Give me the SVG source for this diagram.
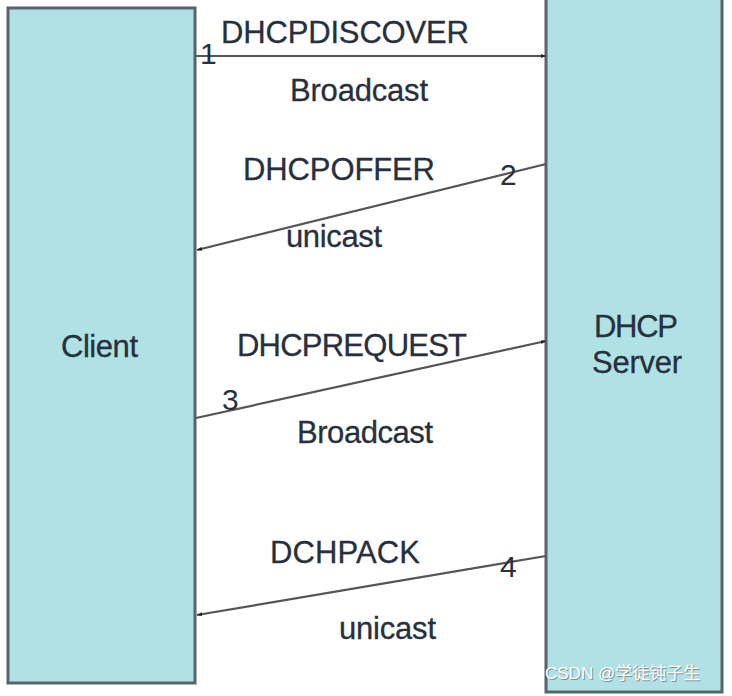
<svg xmlns="http://www.w3.org/2000/svg" width="732" height="696" viewBox="0 0 732 696">
<defs>
<style>
.box{fill:#b0e1e5;stroke:#56656a;stroke-width:3}
.t{font-family:"Liberation Sans",Arial,sans-serif;font-size:31px;fill:#27303c;stroke:#27303c;stroke-width:0.3}
.n{font-family:"Liberation Sans",Arial,sans-serif;font-size:30px;fill:#27303c}
.ln{stroke:#555;stroke-width:2.2;fill:none;marker-end:url(#ah)}
.wm{font-family:"Liberation Sans","Noto Sans CJK SC",sans-serif;font-size:17px}
</style>
<marker id="ah" viewBox="0 0 10 10" refX="10" refY="5" markerWidth="5" markerHeight="5" orient="auto" markerUnits="userSpaceOnUse">
<path d="M0,1 L10,5 L0,9 z" fill="#222"/>
</marker>
</defs>
<rect width="732" height="696" fill="#ffffff"/>
<g id="client">
<rect class="box" x="8" y="8" width="187" height="675"/>
<text class="t" x="61" y="357" textLength="77">Client</text>
</g>
<g id="server">
<rect class="box" x="546" y="-4" width="176" height="696"/>
<text class="t" x="594" y="337" textLength="84">DHCP</text>
<text class="t" x="592" y="373" textLength="90">Server</text>
</g>
<g id="connectors">
<line class="ln" x1="196" y1="56" x2="546" y2="56"/>
<line class="ln" x1="546" y1="164" x2="197" y2="250"/>
<line class="ln" x1="196" y1="418" x2="546" y2="341"/>
<line class="ln" x1="546" y1="556" x2="197" y2="615"/>
</g>
<g id="labels">
<text class="n" x="200" y="64">1</text>
<text class="t" x="221" y="43" textLength="248">DHCPDISCOVER</text>
<text class="t" x="290" y="101" textLength="138">Broadcast</text>
<text class="t" x="243" y="180" textLength="192">DHCPOFFER</text>
<text class="n" x="500" y="185">2</text>
<text class="t" x="286" y="247" textLength="96">unicast</text>
<text class="t" x="237" y="356" textLength="230">DHCPREQUEST</text>
<text class="n" x="222" y="410">3</text>
<text class="t" x="297" y="443" textLength="136">Broadcast</text>
<text class="t" x="270" y="563" textLength="150">DCHPACK</text>
<text class="n" x="500" y="577">4</text>
<text class="t" x="339" y="639" textLength="97">unicast</text>
</g>
<g id="watermark" class="wm">
<text x="546" y="680" fill="#7f8f92">CSDN @学徒钝子生</text>
<text x="545" y="679" fill="#ffffff">CSDN @学徒钝子生</text>
</g>
</svg>
